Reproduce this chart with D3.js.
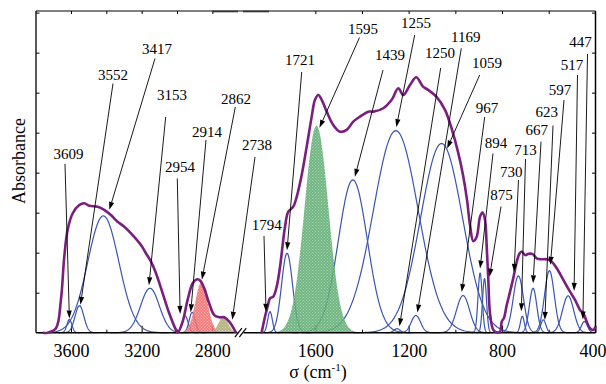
<!DOCTYPE html>
<html><head><meta charset="utf-8">
<script src="https://cdn.jsdelivr.net/npm/d3@7"></script>
<style>
body{margin:0;background:#fff}
svg{display:block}
text{font-family:"Liberation Serif","Times New Roman",serif;fill:#000}
</style>
</head><body>
<svg id="chart" width="606" height="384"></svg>
<script>
// ---------------- DATA ----------------
const peakLabels  = ["3609","3552","3417","3153","2954","2914","2862","2738","1794","1721","1595","1439","1255","1250","1169","1059","967","894","875","730","713","667","623","597","517","447"];
const peakCenters = [3609,3552,3417,3153,2954,2914,2862,2738,1794,1721,1595,1439,1255,1250,1169,1059,967,894,875,730,713,667,623,597,517,447];
const peakHeights = [0.33,0.675,2.92,1.11,0.42,0.51,1.25,0.40,0.525,1.985,5.17,3.82,5.05,0.10,0.43,4.73,0.93,1.49,1.35,1.42,0.41,1.11,0.32,1.55,0.92,0.28];
const peakSigmas  = [14,25,88,53,17,17,35,27,10,23.5,51,62,96,13,20,90,28,9,8.5,22,8.5,16,11,21,24,13];
const filledPeaks = {"1595":"green","2862":"red","2738":"olive"};

// measured spectrum (purple), high-wavenumber part
const specLeftNu = [3760,3732,3685,3657,3638,3619,3590,3553,3525,3496,3449,3412,3374,3336,3298,3251,3204,3176,3147,3119,3081,3044,3006,2996,2968,2940,2911,2887,2868,2846,2818,2789,2761,2733,2704,2666];
const specLeftA  = [0,0,0.11,0.82,1.9,2.57,2.985,3.19,3.235,3.17,3.15,3.07,2.94,2.775,2.65,2.44,2.19,1.985,1.775,1.485,0.985,0.485,0.07,0,0.275,0.82,1.235,1.335,1.3,1.11,0.735,0.44,0.385,0.385,0.275,0];
// measured spectrum (purple), low-wavenumber part
const specRightNu = [1830,1815.5,1802.7,1794,1780,1765.4,1751,1729.8,1715.7,1694.3,1665.6,1636.8,1615.4,1601.3,1587.1,1572.6,1551.2,1522.9,1494.2,1465.5,1437.2,1408.5,1372.9,1351.5,1308.7,1272.7,1244.4,1223,1194.3,1167.3,1138.6,1117.1,1081.6,1044.3,1014.3,988.6,967.2,950,937.2,923.1,908.5,894.3,883.6,872.9,865.6,858.8,851.5,837.4,822.8,808.6,801.4,791.5,779.9,765.8,751.6,737.1,725.1,715.7,701.5,687.4,670.3,651.4,630,608.6,587.1,565.7,537.4,508.7,487.3,465.9,451.7,437.2,423.1,408.9,400];
const specRightA  = [0,0.40,0.69,0.86,0.90,1.15,1.65,2.65,3.025,3.15,3.735,4.65,5.40,5.82,5.94,5.82,5.525,5.19,5.025,5.07,5.275,5.40,5.525,5.525,5.61,5.82,6.11,5.94,6.19,6.385,6.15,6.07,5.90,5.57,5.07,4.52,3.94,3.32,2.69,2.29,2.40,2.90,3.005,2.82,2.15,1.32,0.485,0.07,0.01,0.025,0.275,0.37,0.69,1.02,1.37,1.77,1.98,2.03,1.94,1.97,1.97,1.86,1.835,1.835,1.775,1.61,1.32,1.025,0.82,0.57,0.485,0.275,0.11,0.07,0.15];

const xLeftDomain  = [3800, 2640];
const xRightDomain = [1920, 400];
const xTicksLeft   = [3600, 3200, 2800];
const xMinorLeft   = [3400, 3000];
const xTicksRight  = [1600, 1200, 800, 400];
const xMinorRight  = [1400, 1000, 600];
const yTicks       = [1,2,3,4,5,6,7,8];
const yLabel = "Absorbance";

// ---------------- LAYOUT (annotation placement) ----------------
const labelPos = [[68.5,159],[113,80],[157,53.5],[172,100],[180,172],[207,137],[236,103.5],[257,150],[266.7,230],[300,65],[363,33.5],[390,60],[416,27.5],[440,58],[465.7,41.7],[487,68],[487,113],[496,148],[501.5,200],[511.3,176.5],[525.5,155],[536.8,135],[546.8,116.7],[560,95],[572,70],[580.5,46.5]];
const lineStart = [[65,164],[113,83.5],[155,58.5],[165.7,117],[177.3,178.5],[206,140],[235.3,107],[255,157],[264,236],[301.7,72],[359.5,37.5],[383,70],[414.7,35],[440.7,68],[461.3,48.3],[479.7,75],[484.7,117],[493,153.5],[501,206.5],[518.5,180],[525.5,159],[541,141.7],[553,125.5],[564,100],[577.5,75],[587.5,54]];
const tipOffset = [[0,-1],[1,-1],[6,-6],[-1,-3],[-5,-2],[-1.5,0],[0.5,-3],[9,3],[-4,0],[0,-3],[3,2],[2,-3],[0.5,-3.5],[2.5,-2.5],[1.5,-3],[5.5,5],[-1.3,-3.5],[0,-4.5],[5,-2],[-4.3,-4],[-1,-5],[0,-5],[1.5,0],[1,-6],[6,-5],[-1.5,-2]];

// ---------------- CHART ----------------
const svg = d3.select("#chart");
const plotL = 36, plotR = 595.5, plotT = 11, plotB = 332.7, breakX = 240.6;

const xL = d3.scaleLinear().domain(xLeftDomain).range([35.65, breakX]);
const xR = d3.scaleLinear().domain(xRightDomain).range([breakX, 595.4]);
const y  = d3.scaleLinear().domain([0, 8.04]).range([plotB, plotT]);
const xFor = nu => nu > 2000 ? xL : xR;

// patterns
const defs = svg.append("defs");
function pattern(id, base, dot){
  const p = defs.append("pattern").attr("id", id).attr("width", 3).attr("height", 3).attr("patternUnits","userSpaceOnUse");
  p.append("rect").attr("width",3).attr("height",3).attr("fill",base);
  p.append("rect").attr("x",0).attr("y",0).attr("width",1).attr("height",1).attr("fill",dot);
  p.append("rect").attr("x",1.5).attr("y",1.5).attr("width",1).attr("height",1).attr("fill",dot);
}
pattern("pg", "#58a96c", "#9fd1aa");
pattern("pr", "#f26666", "#f8aaaa");
pattern("po", "#a8a46c", "#d2cfa6");
const fillFor = {green:"url(#pg)", red:"url(#pr)", olive:"url(#po)"};

// axes ticks
const gAx = svg.append("g");
function addAxis(axis, transform){
  const g = gAx.append("g").attr("transform", transform).call(axis);
  g.select(".domain").remove();
  g.selectAll(".tick line").attr("stroke","#000").attr("stroke-width",1);
  g.selectAll("text").style("font-family",'"Liberation Serif","Times New Roman",serif').style("font-size","18px").attr("fill","#000");
  return g;
}
addAxis(d3.axisBottom(xL).tickValues(xTicksLeft).tickSize(-7).tickPadding(11.5).tickFormat(d3.format("d")), `translate(0,${plotB})`);
const gR = addAxis(d3.axisBottom(xR).tickValues(xTicksRight).tickSize(-7).tickPadding(11.5).tickFormat(d3.format("d")), `translate(0,${plotB})`);
// keep the last label inside the window
gR.selectAll(".tick").filter(d=>d===400).select("text").attr("text-anchor","end").attr("x",10.5);
addAxis(d3.axisBottom(xL).tickValues(xMinorLeft).tickSize(-3).tickFormat(""), `translate(0,${plotB})`);
addAxis(d3.axisBottom(xR).tickValues(xMinorRight).tickSize(-3).tickFormat(""), `translate(0,${plotB})`);
addAxis(d3.axisTop(xL).tickValues(xTicksLeft.concat(xMinorLeft)).tickSize(-3).tickFormat(""), `translate(0,${plotT})`);
addAxis(d3.axisTop(xR).tickValues(xTicksRight.concat(xMinorRight).filter(v=>v>400)).tickSize(-3).tickFormat(""), `translate(0,${plotT})`);
addAxis(d3.axisLeft(y).tickValues(yTicks).tickSize(-3.5).tickFormat(""), `translate(${plotL},0)`);
addAxis(d3.axisRight(y).tickValues(yTicks).tickSize(-3.5).tickFormat(""), `translate(${plotR},0)`);

// gaussian components
const peaks = peakCenters.map((c,i)=>({label:peakLabels[i], c, h:peakHeights[i], s:peakSigmas[i], fill:filledPeaks[peakLabels[i]]}));
function peakPoints(p){
  const dom = p.c > 2000 ? xLeftDomain : xRightDomain;
  const hi = Math.min(dom[0], p.c + 4.2*p.s), lo = Math.max(dom[1], p.c - 4.2*p.s);
  const pts = [];
  const n = 160;
  for (let k=0;k<=n;k++){
    const nu = hi - (hi-lo)*k/n;
    pts.push([nu, p.h*Math.exp(-((nu-p.c)**2)/(2*p.s*p.s))]);
  }
  return pts;
}
const gComp = svg.append("g");
peaks.filter(p=>!p.fill).forEach(p=>{
  const xs = xFor(p.c);
  gComp.append("path").datum(peakPoints(p))
    .attr("d", d3.line().x(d=>xs(d[0])).y(d=>y(d[1])))
    .attr("fill","none").attr("stroke","#3b55ae").attr("stroke-width",1.2);
});
peaks.filter(p=>p.fill).forEach(p=>{
  const xs = xFor(p.c);
  gComp.append("path").datum(peakPoints(p))
    .attr("d", d3.area().x(d=>xs(d[0])).y0(plotB).y1(d=>y(d[1])))
    .attr("fill", fillFor[p.fill]).attr("fill-opacity", 0.85).attr("stroke","none");
});

// frame
const gF = svg.append("g").attr("stroke","#000").attr("fill","none");
gF.append("line").attr("x1",plotL).attr("x2",plotL).attr("y1",plotT).attr("y2",plotB).attr("stroke-width",1.3);
gF.append("line").attr("x1",plotR).attr("x2",plotR).attr("y1",plotT).attr("y2",plotB).attr("stroke-width",1.5);
gF.append("line").attr("x1",plotL).attr("x2",plotR).attr("y1",plotT).attr("y2",plotT).attr("stroke-width",1);
gF.append("line").attr("x1",212).attr("x2",238).attr("y1",plotT+0.5).attr("y2",plotT+0.5).attr("stroke-width",1.6).attr("stroke","#333");
gF.append("line").attr("x1",243).attr("x2",269).attr("y1",plotT+0.5).attr("y2",plotT+0.5).attr("stroke-width",1.6).attr("stroke","#333");
gF.append("line").attr("x1",plotL).attr("x2",breakX-3).attr("y1",plotB).attr("y2",plotB).attr("stroke-width",1.5);
gF.append("line").attr("x1",breakX+3).attr("x2",plotR).attr("y1",plotB).attr("y2",plotB).attr("stroke-width",1.5);

// measured spectrum
const specLine = d3.line().curve(d3.curveCatmullRom.alpha(0.5));
svg.append("path").attr("d", specLine(specLeftNu.map((n,i)=>[xL(n), y(specLeftA[i])])))
  .attr("fill","none").attr("stroke","#7a1f7e").attr("stroke-width",2.6).attr("stroke-linejoin","round");
svg.append("path").attr("d", specLine(specRightNu.map((n,i)=>[xR(n), y(specRightA[i])])))
  .attr("fill","none").attr("stroke","#7a1f7e").attr("stroke-width",2.6).attr("stroke-linejoin","round");

// break marks
const gB = svg.append("g");
gB.append("polygon").attr("points", `${breakX-3},${plotB+4} ${breakX+1},${plotB-4} ${breakX+4},${plotB-4} ${breakX},${plotB+4}`).attr("fill","#fff");
[-2.2, 2.2].forEach(o=>{
  gB.append("line").attr("x1",breakX+o-3.5).attr("y1",plotB+4.5).attr("x2",breakX+o+3.5).attr("y2",plotB-4.5)
    .attr("stroke","#000").attr("stroke-width",1.2);
});

// annotations
const gA = svg.append("g");
peaks.forEach((p,i)=>{
  const xs = xFor(p.c);
  const tx = xs(p.c) + tipOffset[i][0], ty = y(p.h) + tipOffset[i][1];
  const [sx, sy] = lineStart[i];
  const dx = tx - sx, dy = ty - sy, len = Math.hypot(dx, dy);
  const ux = dx/len, uy = dy/len;
  const L = 8, W = 2.6;
  const bx = tx - ux*L, by = ty - uy*L;
  gA.append("line").attr("x1",sx).attr("y1",sy).attr("x2",bx).attr("y2",by).attr("stroke","#000").attr("stroke-width",0.9);
  gA.append("polygon").attr("points", `${tx},${ty} ${bx - uy*W},${by + ux*W} ${bx + uy*W},${by - ux*W}`).attr("fill","#000");
  gA.append("text").attr("x", labelPos[i][0]).attr("y", labelPos[i][1]).attr("text-anchor","middle")
    .style("font-size","15px").text(p.label);
});

// axis titles
svg.append("text").attr("transform", `translate(25,161) rotate(-90)`).attr("text-anchor","middle")
  .style("font-size","18px").text(yLabel);
const xt = svg.append("text").attr("x", 318).attr("y", 378).attr("text-anchor","middle").style("font-size","18px");
xt.append("tspan").text("σ (cm");
xt.append("tspan").attr("dy",-7).style("font-size","11px").text("-1");
xt.append("tspan").attr("dy",7).text(")");
</script>
</body></html>
